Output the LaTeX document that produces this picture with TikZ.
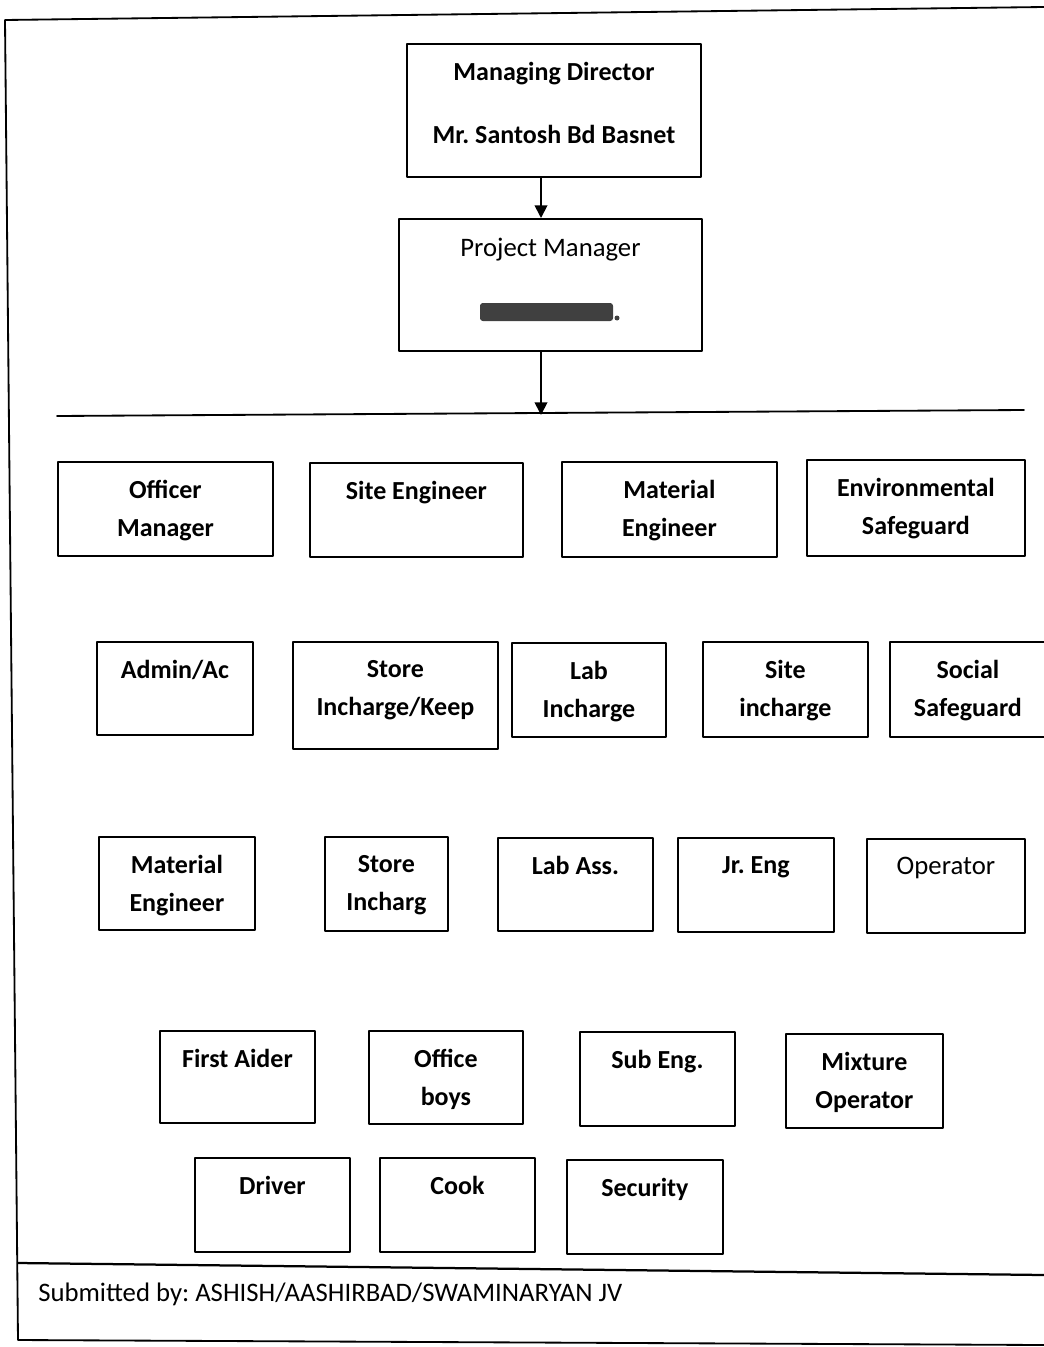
\documentclass[tikz,border=0pt]{standalone}
\usepackage{fontspec}
\setmainfont{Carlito}
\frenchspacing
\usetikzlibrary{positioning,arrows.meta}
\tikzset{
	orgbox/.style={draw, line width=1.3pt, inner sep=0pt, anchor=north west},
	boxtext/.style={font=\bfseries\fontsize{18.5}{27}\selectfont, align=center, inner sep=0pt},
	plaintext/.style={font=\fontsize{19}{27}\selectfont, align=center, inner sep=0pt}
}
\begin{document}
\begin{tikzpicture}[x=0.025cm,y=-0.025cm,line join=round,line cap=round,>={Triangle[length=9pt,width=9pt]}]
	\useasboundingbox (0,0) rectangle (1044,1347);
	% frame of the sheet
	\draw[line width=1.3pt] (1044,7)--(5,20)--(18,1340)--(1044,1345);
	\draw[line width=1.6pt] (18,1263)--(1044,1275);
	\node[anchor=west, font=\fontsize{19}{22}\selectfont, inner sep=0pt] (subm) at (38,1294) {Submitted by: ASHISH/AASHIRBAD/SWAMINARYAN JV};
	% top of the chart
	\node[orgbox, minimum width=7.35cm, minimum height=3.325cm] (md) at (406,43) {};
	\node[boxtext, below=13.5pt of md.north] (md-t) {Managing Director\\[18pt]Mr. Santosh Bd Basnet};
	\node[orgbox, minimum width=7.575cm, minimum height=3.3cm] (pm) at (398,218) {};
	\node[plaintext, below=14pt of pm.north] (pm-t) {Project Manager};
	\fill[black!75, rounded corners=2pt] (480,303) rectangle (613,321);
	\fill[black!75] (617,318) circle (2.5);
	\coordinate (bar) at (541,415);
	\draw[line width=1.3pt] (57,416)--(1024,410);
	\draw[->, line width=1.3pt] (md.south -| bar)--(pm.north -| bar);
	\draw[->, line width=1.3pt] (pm.south -| bar)--(bar);
	% the staff boxes
	\foreach \nm/\l/\t/\r/\b/\txt in {
		om/57/461/272/555/{Officer\\Manager},
		se/309/462/522/556/{Site Engineer},
		me/561/461/776/556/{Material\\Engineer},
		es/806/459/1024/555/{Environmental\\Safeguard},
		aa/96/641/252/734/{Admin/Ac},
		si/292/641/497/748/{Store\\Incharge/Keep},
		li/511/642/665/736/{Lab\\Incharge},
		sti/702/641/867/736/{Site\\incharge},
		ss/889/641/1045/736/{Social\\Safeguard},
		mtl/98/836/254/929/{Material\\Engineer},
		sto/324/836/447/930/{Store\\Incharg},
		la/497/837/652/930/{Lab Ass.},
		je/677/837/833/931/{Jr. Eng},
		fa/159/1030/314/1122/{First Aider},
		ob/368/1030/522/1123/{Office\\boys},
		sub/579/1031/734/1125/{Sub Eng.},
		mo/785/1033/942/1127/{Mixture\\Operator},
		dr/194/1157/349/1251/{Driver},
		ck/379/1157/534/1251/{Cook},
		sec/566/1159/722/1253/{Security}}{
		\pgfmathsetmacro{\w}{(\r-\l)*0.025}
		\pgfmathsetmacro{\h}{(\b-\t)*0.025}
		\node[orgbox, minimum width=\w cm, minimum height=\h cm] (\nm) at (\l,\t) {};
		\node[boxtext, below=13.5pt of \nm.north] (\nm-t) {\txt};
	}
	\node[orgbox, minimum width=3.95cm, minimum height=2.35cm] (op) at (866,838) {};
	\node[plaintext, below=13.5pt of op.north] (op-t) {Operator};
\end{tikzpicture}
\end{document}
